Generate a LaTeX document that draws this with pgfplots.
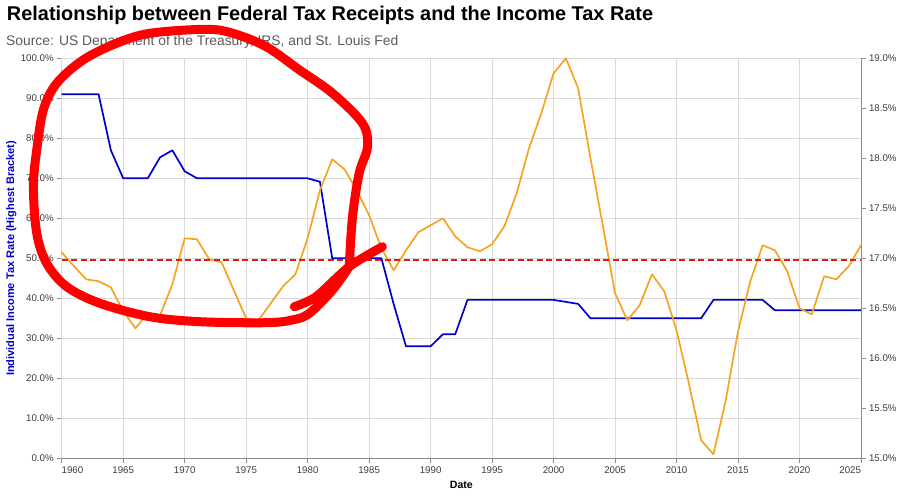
\documentclass[border=0pt]{standalone}
\usepackage{fontspec}
\setmainfont{Liberation Sans}
\usepackage{pgfplots}
\pgfplotsset{compat=1.18}
\definecolor{taxblue}{RGB}{0,0,204}
\definecolor{rcptorange}{RGB}{245,163,33}
\definecolor{gridgray}{RGB}{218,218,218}
\definecolor{axisgray}{RGB}{140,140,140}
\definecolor{ticktext}{RGB}{60,60,60}
\definecolor{subgray}{RGB}{90,90,90}
\definecolor{scribble}{RGB}{255,0,0}
\definecolor{meanred}{RGB}{240,20,20}
\begin{document}
\begin{tikzpicture}
\useasboundingbox (-61.7pt,-36.7pt) rectangle (840.3pt,458.3pt);
\pgfplotsset{
  common/.style={
    scale only axis, width=799.3pt, height=400pt,
    at={(0pt,0pt)}, anchor=south west,
    xmin=1960, xmax=2025,
    tick align=outside, major tick length=4.5pt,
    every tick/.style={axisgray, line width=0.8pt},
    axis line style={axisgray, line width=0.8pt},
    /pgf/number format/assume math mode=true,
    /pgf/number format/1000 sep={},
    tick label style={font=\fontsize{9.7}{11}\selectfont, text=ticktext},
    clip=false,
  }
}
\node[anchor=base west, inner sep=0pt, font=\bfseries\fontsize{19.9}{23}\selectfont] at (-54.9pt,437.6pt) {Relationship between Federal Tax Receipts and the Income Tax Rate};
\node[anchor=base west, inner sep=0pt, font=\fontsize{13.85}{16}\selectfont, text=subgray] at (-55.7pt,412.3pt) {Source: US Department of the Treasury, IRS, and St. Louis Fed};
\begin{axis}[common,
  ymin=0, ymax=100,
  axis x line*=bottom, axis y line*=left,
  xtick={1965,1970,...,2020},
  extra x ticks={1960,2025},
  extra x tick labels={\makebox[0pt][l]{1960},\makebox[0pt][r]{2025}},
  ytick={0,10,...,100},
  yticklabel={\pgfmathprintnumber[fixed,fixed zerofill,precision=1]{\tick}\%},
  grid=major, major grid style={gridgray, line width=0.6pt},
  every axis y label/.style={at={([xshift=-50.5pt]rel axis cs:0,0.5)}, rotate=90, anchor=center, font=\bfseries\fontsize{11}{12}\selectfont, text=taxblue},
  every axis x label/.style={at={([yshift=-30.7pt]rel axis cs:0.5,0)}, anchor=base, font=\bfseries\fontsize{10.6}{12}\selectfont},
  xlabel={Date},
  ylabel={Individual Income Tax Rate (Highest Bracket)},
]
\addplot[taxblue, line width=1.7pt, line join=round] coordinates {
(1960,91) (1961,91) (1962,91) (1963,91) (1964,77) (1965,70) (1966,70) (1967,70)
(1968,75.25) (1969,77) (1970,71.75) (1971,70) (1972,70) (1973,70) (1974,70) (1975,70)
(1976,70) (1977,70) (1978,70) (1979,70) (1980,70) (1981,69.13) (1982,50) (1983,50)
(1984,50) (1985,50) (1986,50) (1987,38.5) (1988,28) (1989,28) (1990,28) (1991,31)
(1992,31) (1993,39.6) (1994,39.6) (1995,39.6) (1996,39.6) (1997,39.6) (1998,39.6)
(1999,39.6) (2000,39.6) (2001,39.1) (2002,38.6) (2003,35) (2004,35) (2005,35)
(2006,35) (2007,35) (2008,35) (2009,35) (2010,35) (2011,35) (2012,35) (2013,39.6)
(2014,39.6) (2015,39.6) (2016,39.6) (2017,39.6) (2018,37) (2019,37) (2020,37)
(2021,37) (2022,37) (2023,37) (2024,37) (2025,37)
};
\end{axis}
\begin{axis}[common,
  ymin=15, ymax=19,
  axis x line=none, axis y line*=right,
  ytick={15,15.5,...,19},
  yticklabel={\pgfmathprintnumber[fixed,fixed zerofill,precision=1]{\tick}\%},
]
\addplot[rcptorange, line width=1.7pt, line join=round] coordinates {
(1960,17.06) (1961,16.92) (1962,16.79) (1963,16.77) (1964,16.71) (1965,16.47)
(1966,16.30) (1967,16.45) (1968,16.43) (1969,16.74) (1970,17.20) (1971,17.19)
(1972,16.99) (1973,16.96) (1974,16.68) (1975,16.40) (1976,16.38) (1977,16.55)
(1978,16.72) (1979,16.84) (1980,17.20) (1981,17.68) (1982,17.99) (1983,17.89)
(1984,17.68) (1985,17.43) (1986,17.10) (1987,16.88) (1988,17.08) (1989,17.26)
(1990,17.33) (1991,17.40) (1992,17.22) (1993,17.11) (1994,17.07) (1995,17.14)
(1996,17.32) (1997,17.65) (1998,18.10) (1999,18.45) (2000,18.85) (2001,19.00)
(2002,18.70) (2003,18.00) (2004,17.33) (2005,16.65) (2006,16.38) (2007,16.53)
(2008,16.84) (2009,16.67) (2010,16.28) (2011,15.75) (2012,15.18) (2013,15.04)
(2014,15.58) (2015,16.27) (2016,16.77) (2017,17.13) (2018,17.08) (2019,16.87)
(2020,16.50) (2021,16.44) (2022,16.82) (2023,16.79) (2024,16.92) (2025,17.13)
};
\addplot[meanred, line width=1.8pt, dash pattern=on 6pt off 3.5pt] coordinates {(1960,16.98) (2025,16.98)};
\addplot[scribble, line width=9pt, smooth, tension=0.55, line cap=round, line join=round] coordinates {
(1983.38,16.916) (1983.65,17.416) (1984.19,17.85) (1984.87,18.116) (1984.46,18.35)
(1982.03,18.65) (1979.33,18.884) (1976.63,19.116) (1973.92,19.25) (1971.76,19.29)
(1967.16,19.25) (1964.46,19.15) (1961.75,18.984) (1959.59,18.75) (1958.51,18.484)
(1957.97,18.084) (1957.70,17.716) (1957.97,17.25) (1958.78,16.95) (1960.41,16.716)
(1963.11,16.55) (1967.16,16.416) (1971.22,16.366) (1976.63,16.356) (1978.78,16.384)
(1980.14,16.45) (1982.03,16.684) (1983.38,16.916)
};
\addplot[scribble, line width=9pt, smooth, line cap=round, line join=round] coordinates {
(1978.92,16.516) (1980.68,16.616) (1983.38,16.916) (1986.08,17.116)
};
\end{axis}
\end{tikzpicture}
\end{document}
